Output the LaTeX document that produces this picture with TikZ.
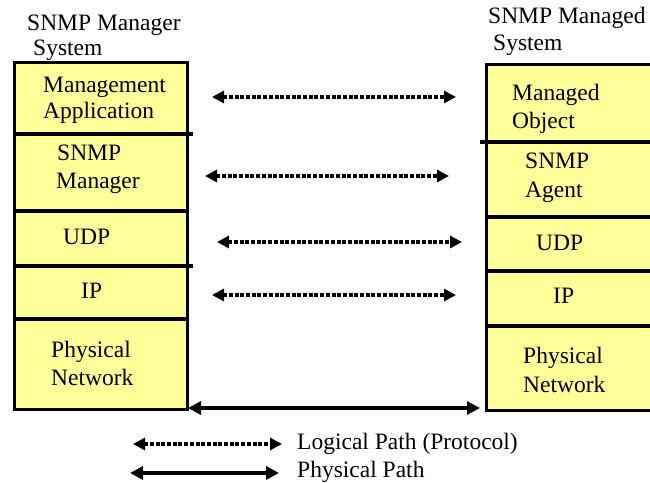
\documentclass[tikz,border=0pt]{standalone}
\usepackage{fontspec}
\setmainfont{Liberation Serif}
\usetikzlibrary{arrows.meta}
\definecolor{layerfill}{HTML}{FFFF99}
\tikzset{
  lbl/.style={anchor=base west, inner sep=0pt, font=\fontsize{23.5}{26}\selectfont},
  stackbox/.style={draw=black, line width=3.2pt, fill=layerfill},
  divider/.style={draw=black, line width=3.2pt},
  logical/.style={line width=3.1pt, dash pattern=on 4pt off 1.7pt,
    {Triangle[length=12pt,width=12pt]}-{Triangle[length=12pt,width=12pt]}},
  physical/.style={line width=3.8pt,
    {Triangle[length=13pt,width=13pt]}-{Triangle[length=13pt,width=13pt]}}
}
\begin{document}
\begin{tikzpicture}[x=1pt,y=-1pt]
\useasboundingbox (0,0) rectangle (650,482);
\clip (0,0) rectangle (650,482);
\fill[white] (0,0) rectangle (650,482);

% left stack (manager system)
\node[stackbox, minimum width=173pt, minimum height=347pt, inner sep=0pt, anchor=north west] (lbox) at (13,61) {};
\draw[divider] (13,134) -- (193,134);
\draw[divider] (13,211) -- (186,211);
\draw[divider] (13,266) -- (193,266);
\draw[divider] (13,319) -- (186,319);

% right stack (managed system), extends past the right edge
\node[stackbox, minimum width=180pt, minimum height=346pt, inner sep=0pt, anchor=north west] (rbox) at (485,63) {};
\draw[divider] (480,142) -- (665,142);
\draw[divider] (485,217) -- (665,217);
\draw[divider] (485,271) -- (665,271);
\draw[divider] (485,326) -- (665,326);

% titles
\node[lbl] (tl1) at (27,30) {SNMP Manager};
\node[lbl] (tl2) at (33,55) {System};
\node[lbl] (tr1) at (488,23) {SNMP Managed};
\node[lbl] (tr2) at (493,50) {System};

% left layer labels
\node[lbl] (lma1) at (43,92) {Management};
\node[lbl] (lma2) at (43,118) {Application};
\node[lbl] (lsm1) at (57,160) {SNMP};
\node[lbl] (lsm2) at (56,188) {Manager};
\node[lbl] (ludp) at (63,244) {UDP};
\node[lbl] (lip) at (81,298) {IP};
\node[lbl] (lpn1) at (51,357) {Physical};
\node[lbl] (lpn2) at (51,385) {Network};

% right layer labels
\node[lbl] (rmo1) at (512,100) {Managed};
\node[lbl] (rmo2) at (512,128) {Object};
\node[lbl] (rsa1) at (525,168) {SNMP};
\node[lbl] (rsa2) at (525,197) {Agent};
\node[lbl] (rudp) at (536,250) {UDP};
\node[lbl] (rip) at (553,303) {IP};
\node[lbl] (rpn1) at (523,363) {Physical};
\node[lbl] (rpn2) at (523,392) {Network};

% logical path endpoints
\coordinate (a1l) at (212,97);  \coordinate (a1r) at (456,97);
\coordinate (a2l) at (205,176); \coordinate (a2r) at (449,176);
\coordinate (a3l) at (217,242); \coordinate (a3r) at (462,242);
\coordinate (a4l) at (212,295); \coordinate (a4r) at (456,295);
\draw[logical] (a1l) -- (a1r);
\draw[logical] (a2l) -- (a2r);
\draw[logical] (a3l) -- (a3r);
\draw[logical] (a4l) -- (a4r);

% physical path between the stacks
\coordinate (pl) at (188,408);
\coordinate (pr) at (480,408);
\draw[physical] (pl) -- (pr);

% legend
\coordinate (lg1l) at (133,444); \coordinate (lg1r) at (282,444);
\coordinate (lg2l) at (130,473); \coordinate (lg2r) at (279,473);
\draw[logical] (lg1l) -- (lg1r);
\draw[physical] (lg2l) -- (lg2r);
\node[lbl] (leg1) at (297,449) {Logical Path (Protocol)};
\node[lbl] (leg2) at (297,477) {Physical Path};
\end{tikzpicture}
\end{document}
